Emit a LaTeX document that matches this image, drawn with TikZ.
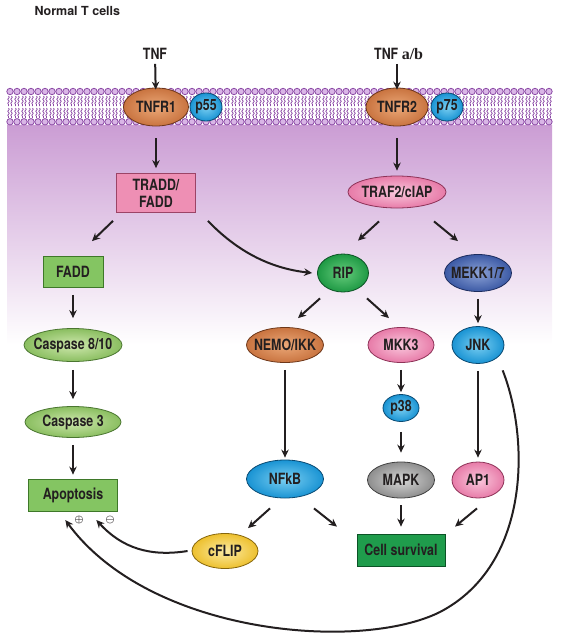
\documentclass[tikz,border=0pt]{standalone}
\usepackage{bm}
\usepackage{fontspec}
\setmainfont{TeX Gyre Heros}
\newfontfamily\narrowfont{TeX Gyre Heros}[FakeStretch=0.8]
\newfontfamily\serifbold{Liberation Serif}
\usetikzlibrary{shapes,arrows.meta,positioning,decorations.pathmorphing}
\definecolor{ink}{HTML}{231F20}
\definecolor{lipid}{HTML}{8C4AA6}
\definecolor{lipidhead}{HTML}{D9B6E6}
\definecolor{cytoplasm}{HTML}{CB9DD4}
\definecolor{orangeIn}{HTML}{EBA878}
\definecolor{orangeOut}{HTML}{C97440}
\definecolor{orangeLine}{HTML}{6E3719}
\definecolor{cyanIn}{HTML}{7ACFF2}
\definecolor{cyanOut}{HTML}{1993D3}
\definecolor{cyanLine}{HTML}{0A4A72}
\definecolor{pinkIn}{HTML}{FAC8DD}
\definecolor{pinkOut}{HTML}{E77BA8}
\definecolor{pinkLine}{HTML}{8E3358}
\definecolor{ripIn}{HTML}{66CC7C}
\definecolor{ripOut}{HTML}{1E9944}
\definecolor{ripLine}{HTML}{0D5426}
\definecolor{mekkIn}{HTML}{8CA2D6}
\definecolor{mekkOut}{HTML}{3C5AA5}
\definecolor{mekkLine}{HTML}{1C2C5E}
\definecolor{caspIn}{HTML}{CFE8AE}
\definecolor{caspOut}{HTML}{8ABE60}
\definecolor{caspLine}{HTML}{4A7630}
\definecolor{grayIn}{HTML}{D6D6D6}
\definecolor{grayOut}{HTML}{8E8E8E}
\definecolor{grayLine}{HTML}{404040}
\definecolor{flipIn}{HTML}{FCEBA4}
\definecolor{flipOut}{HTML}{EDC02E}
\definecolor{flipLine}{HTML}{86660C}
\definecolor{traddFill}{HTML}{EE8FB4}
\definecolor{traddLine}{HTML}{9C4466}
\definecolor{faddFill}{HTML}{84C562}
\definecolor{faddLine}{HTML}{3E7829}
\definecolor{survFill}{HTML}{1F9C4C}
\definecolor{survLine}{HTML}{0B5326}
\newcommand{\molfont}{\narrowfont\bfseries\fontsize{15.5}{17}\selectfont}
\tikzstyle{mol} = [ellipse, draw, line width=0.8pt, inner xsep=-6pt, inner ysep=0pt, text=ink, font=\molfont]
\tikzstyle{orangemol} = [mol, inner color=orangeIn, outer color=orangeOut, draw=orangeLine]
\tikzstyle{cyanmol} = [mol, inner color=cyanIn, outer color=cyanOut, draw=cyanLine]
\tikzstyle{pinkmol} = [mol, inner color=pinkIn, outer color=pinkOut, draw=pinkLine]
\tikzstyle{ripmol} = [mol, inner color=ripIn, outer color=ripOut, draw=ripLine]
\tikzstyle{mekkmol} = [mol, inner color=mekkIn, outer color=mekkOut, draw=mekkLine]
\tikzstyle{caspmol} = [mol, inner color=caspIn, outer color=caspOut, draw=caspLine]
\tikzstyle{graymol} = [mol, inner color=grayIn, outer color=grayOut, draw=grayLine]
\tikzstyle{flipmol} = [mol, inner color=flipIn, outer color=flipOut, draw=flipLine]
\tikzstyle{outcome} = [rectangle, draw, line width=0.8pt, inner sep=0pt, text=ink, font=\molfont, align=center]
\tikzstyle{ligand} = [inner sep=1pt, text=ink, font=\molfont]
\tikzstyle{act} = [draw=ink, line width=2pt, -{Stealth[length=8pt,width=7.5pt]}]
\tikzstyle{vact} = [act, shorten <=7pt, shorten >=5pt]
\tikzstyle{sign} = [inner sep=0pt, text=ink, font=\fontsize{10}{10}\selectfont]
\tikzstyle{lipid head} = [draw=lipid, fill=lipidhead, line width=0.8pt]
\tikzstyle{lipid tail} = [draw=lipid, line width=0.7pt, decorate, decoration={snake, amplitude=0.8pt, segment length=4pt}]

\begin{document}
\begin{tikzpicture}[x=1pt, y=-1pt]
	\useasboundingbox (0,0) rectangle (565,638);
	\shade[top color=cytoplasm, bottom color=white] (7,125) rectangle (552,345);
	% membrane
	\foreach \x in {10,17,...,549}{
		\foreach \d in {-1.5,1.5}{
			\draw[lipid tail] (\x+\d,96) -- (\x+\d,106);
			\draw[lipid tail] (\x+\d,108) -- (\x+\d,118);
		}
		\draw[lipid head] (\x,91.5) circle (3.2pt);
		\draw[lipid head] (\x,121.8) circle (3.2pt);
	}

	\node[anchor=west, text=ink, font=\bfseries\fontsize{12.5}{14}\selectfont] (title) at (31,11) {Normal T cells};
	\node[ligand] (tnf) at (155,54) {TNF};
	\node[ligand, anchor=west] (tnfab) at (373,54) {TNF {\serifbold\bfseries\fontsize{16}{16}\selectfont a/b}};

	\node[orangemol, minimum width=65pt, minimum height=38pt] (tnfr1) at (156,107) {TNFR1};
	\node[cyanmol, minimum width=32pt, minimum height=28pt] (p55) at (206,107) {p55};
	\node[orangemol, minimum width=62pt, minimum height=38pt] (tnfr2) at (397,107) {TNFR2};
	\node[cyanmol, minimum width=32pt, minimum height=28pt] (p75) at (447,107) {p75};

	\node[outcome, fill=traddFill, draw=traddLine, minimum width=79pt, minimum height=39pt] (tradd) at (156,193) {TRADD/\\FADD};
	\node[pinkmol, minimum width=98pt, minimum height=32pt] (traf) at (397,192) {TRAF2/cIAP};

	\node[outcome, fill=faddFill, draw=faddLine, minimum width=60pt, minimum height=31pt] (fadd) at (73,272) {FADD};
	\node[ripmol, minimum width=51pt, minimum height=38pt] (rip) at (343,273) {RIP};
	\node[mekkmol, minimum width=67pt, minimum height=37pt] (mekk) at (478,273) {MEKK1/7};

	\node[caspmol, minimum width=98pt, minimum height=33pt] (casp8) at (73,345) {Caspase 8/10};
	\node[orangemol, minimum width=77pt, minimum height=35pt] (nemo) at (285,345) {NEMO/IKK};
	\node[pinkmol, minimum width=66pt, minimum height=35pt] (mkk) at (401,345) {MKK3};
	\node[cyanmol, minimum width=52pt, minimum height=37pt] (jnk) at (478,345) {JNK};

	\node[cyanmol, minimum width=36pt, minimum height=27pt] (p38) at (401,408) {p38};
	\node[caspmol, minimum width=96pt, minimum height=31pt] (casp3) at (73,422) {Caspase 3};

	\node[outcome, fill=faddFill, draw=faddLine, minimum width=89pt, minimum height=32pt] (apop) at (73,495) {Apoptosis};
	\node[cyanmol, minimum width=77pt, minimum height=38pt] (nfkb) at (285,479) {NFkB};
	\node[graymol, minimum width=67pt, minimum height=36pt] (mapk) at (401,480) {MAPK};
	\node[pinkmol, minimum width=52pt, minimum height=36pt] (ap1) at (478,480) {AP1};

	\node[flipmol, minimum width=66pt, minimum height=35pt] (cflip) at (225,551) {cFLIP};
	\node[outcome, fill=survFill, draw=survLine, minimum width=88pt, minimum height=32pt] (surv) at (401,550) {Cell survival};

	\node[sign] (plus) at (79,520) {$\bm{\oplus}$};
	\node[sign] (minus) at (110,520) {$\bm{\ominus}$};

	\draw[act, shorten <=3pt, shorten >=-2pt] (tnf) -- (tnfr1);
	\draw[act, shorten <=3pt, shorten >=-2pt] (tnfr2 |- tnfab.south) -- (tnfr2.north);
	\draw[vact, shorten <=12pt] (tnfr1) -- (tradd);
	\draw[vact, shorten <=12pt] (tnfr2) -- (traf);
	\draw[act] ([shift={(-43,8)}]tradd.south) -- ([shift={(19,-15)}]fadd.north);
	\draw[act] ([shift={(12,8)}]tradd.south east) .. controls (236,250) and (268,268) .. ([xshift=-5pt]rip.west);
	\draw[act] ([shift={(-18,13)}]traf.south) -- ([shift={(15,-13)}]rip.north);
	\draw[act] ([shift={(37,13)}]traf.south) -- ([shift={(-20,-13)}]mekk.north);
	\draw[vact, shorten >=10pt] (fadd) -- (casp8);
	\draw[act] ([shift={(-23,6)}]rip.south) -- ([shift={(13,-9)}]nemo.north);
	\draw[act] ([shift={(24,6)}]rip.south) -- ([shift={(-12,-9)}]mkk.north);
	\draw[vact, shorten >=3pt] (mekk) -- (jnk);
	\draw[vact, shorten <=8pt, shorten >=7pt] (casp8) -- (casp3);
	\draw[vact, shorten >=2pt] (nemo) -- (nfkb);
	\draw[vact, shorten >=2pt] (mkk) -- (p38);
	\draw[vact, shorten <=10pt, shorten >=9pt] (p38) -- (mapk);
	\draw[vact, shorten >=4pt] (jnk) -- (ap1);
	\draw[vact, shorten >=4pt] (casp3) -- (apop);
	\draw[act] ([shift={(29,10)}]nfkb.south) -- ([shift={(-64,-7)}]surv.north);
	\draw[vact, shorten >=7pt] (mapk) -- (surv);
	\draw[act] ([shift={(-1,10)}]ap1.south) -- ([shift={(54,-7)}]surv.north);
	\draw[act] ([shift={(-15,10)}]nfkb.south) -- ([shift={(23,-5)}]cflip.north);
	\draw[act] ([xshift=-4pt]cflip.west) .. controls (150,557) and (122,548) .. ([xshift=-9pt]minus.west);
	\draw[act] ([shift={(6,12)}]jnk.south east) .. controls (530,440) and (530,565) .. (440,612) .. controls (360,652) and (150,635) .. ([xshift=-9pt]plus.west);
\end{tikzpicture}
\end{document}
